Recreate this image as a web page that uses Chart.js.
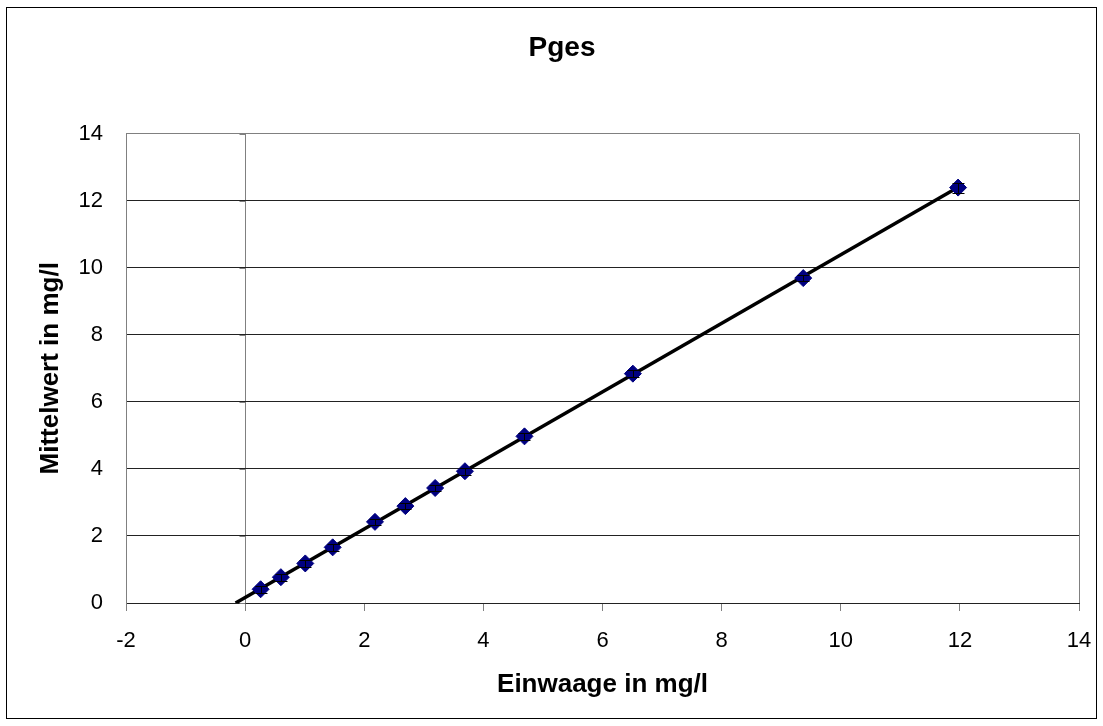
<!DOCTYPE html>
<html><head><meta charset="utf-8">
<script src="https://cdn.jsdelivr.net/npm/chart.js@4/dist/chart.umd.min.js"></script>
<style>html,body{margin:0;padding:0;background:#fff}canvas{display:block}</style>
</head><body>
<canvas id="c" width="1103" height="726"></canvas>
<script>
// ---- data ----
const einwaage   = [0.26, 0.60, 1.01, 1.47, 2.18, 2.69, 3.19, 3.69, 4.69, 6.51, 9.37, 11.97];
const mittelwert = [0.41, 0.77, 1.18, 1.66, 2.42, 2.89, 3.43, 3.93, 4.97, 6.84, 9.69, 12.39];
const fehler     = [0.10, 0.10, 0.10, 0.10, 0.10, 0.10, 0.10, 0.10, 0.10, 0.10, 0.10, 0.15];
const trendX = [-0.16, 11.97];
const trendY = [0, 12.40];
const xTicks = [-2, 0, 2, 4, 6, 8, 10, 12, 14];
const yTicks = [0, 2, 4, 6, 8, 10, 12, 14];
const chartTitle = 'Pges';
const xTitle = 'Einwaage in mg/l';
const yTitle = 'Mittelwert in mg/l';

const FONT = "'Liberation Sans', Arial, sans-serif";
Chart.defaults.font.family = FONT;
Chart.defaults.color = '#000';

const frame = {
  id: 'frame',
  beforeDraw(chart) {
    const c = chart.ctx;
    c.save();
    c.fillStyle = '#fff';
    c.fillRect(0, 0, chart.width, chart.height);
    c.strokeStyle = '#000';
    c.lineWidth = 1;
    c.strokeRect(6.5, 7.5, 1090, 711);
    c.restore();
  }
};

const yAxisAtZero = {
  id: 'yAxisAtZero',
  beforeDatasetsDraw(chart) {
    const c = chart.ctx, xs = chart.scales.x, ys = chart.scales.y;
    const px = Math.round(xs.getPixelForValue(0)) + 0.5;
    c.save();
    c.strokeStyle = '#808080';
    c.lineWidth = 1;
    c.beginPath();
    yTicks.forEach(v => {
      const py = Math.round(ys.getPixelForValue(v)) + 0.5;
      c.moveTo(px - 6, py); c.lineTo(px, py);
    });
    c.stroke();
    c.restore();
  }
};

const errorBars = {
  id: 'errorBars',
  afterDatasetsDraw(chart) {
    const c = chart.ctx, xs = chart.scales.x, ys = chart.scales.y;
    c.save();
    c.strokeStyle = '#000';
    c.lineWidth = 1;
    c.beginPath();
    einwaage.forEach((xv, i) => {
      const px = Math.round(xs.getPixelForValue(xv)) + 0.5;
      const top = Math.round(ys.getPixelForValue(mittelwert[i] + fehler[i])) + 0.5;
      const bot = Math.round(ys.getPixelForValue(mittelwert[i] - fehler[i])) + 0.5;
      c.moveTo(px, top); c.lineTo(px, bot);
      c.moveTo(px - 6, top); c.lineTo(px + 6, top);
      c.moveTo(px - 6, bot); c.lineTo(px + 6, bot);
    });
    c.stroke();
    c.restore();
  }
};

new Chart(document.getElementById('c'), {
  type: 'scatter',
  data: {
    datasets: [
      {
        label: 'Mittelwert',
        data: einwaage.map((x, i) => ({x, y: mittelwert[i]})),
        pointStyle: 'rectRot',
        pointRadius: 8.5,
        pointBackgroundColor: '#000080',
        pointBorderColor: '#000080',
        pointBorderWidth: 1,
        order: 1
      },
      {
        label: 'Trend',
        data: trendX.map((x, i) => ({x, y: trendY[i]})),
        showLine: true,
        borderColor: '#000',
        borderWidth: 3.5,
        pointRadius: 0,
        order: 2
      }
    ]
  },
  options: {
    responsive: false,
    animation: false,
    layout: { padding: { left: 30, right: 9, top: 8, bottom: 0 } },
    plugins: {
      legend: { display: false },
      tooltip: { enabled: false },
      title: {
        display: true,
        text: chartTitle,
        color: '#000',
        font: { size: 28, weight: 'bold', family: FONT },
        padding: { top: 23, bottom: 69 }
      }
    },
    scales: {
      x: {
        type: 'linear',
        position: 'bottom',
        min: -2, max: 14,
        afterBuildTicks: s => { s.ticks = xTicks.map(v => ({value: v})); },
        afterFit: s => { s.height = 123; s.paddingLeft = 0; s.paddingRight = 0; },
        grid: {
          drawOnChartArea: true,
          color: ctx => (ctx.tick && (ctx.tick.value === 0 || ctx.tick.value === 14)) ? '#808080' : 'rgba(0,0,0,0)',
          tickColor: '#808080',
          tickLength: 8,
          lineWidth: 1
        },
        border: { display: true, color: '#222', width: 1 },
        ticks: { font: { size: 22, family: FONT }, color: '#000', padding: 17, maxRotation: 0 },
        title: {
          display: true, text: xTitle, color: '#000',
          font: { size: 26, weight: 'bold', family: FONT },
          padding: { top: 0, bottom: 26 }
        }
      },
      y: {
        type: 'linear',
        position: 'left',
        min: 0, max: 14,
        afterBuildTicks: s => { s.ticks = yTicks.map(v => ({value: v})); },
        afterFit: s => { s.width = 96; s.paddingTop = 0; s.paddingBottom = 0; },
        grid: {
          color: ctx => (ctx.tick && ctx.tick.value === 14) ? '#808080' : '#222',
          drawTicks: false,
          lineWidth: 1
        },
        border: { display: true, color: '#808080', width: 1 },
        ticks: { font: { size: 22, family: FONT }, color: '#000', padding: 23 },
        title: {
          display: true, text: yTitle, color: '#000',
          font: { size: 26, weight: 'bold', family: FONT },
          padding: { top: 5, bottom: 0 }
        }
      },
      pad: {
        type: 'linear',
        position: 'right',
        display: true,
        grid: { display: false },
        border: { display: false },
        ticks: { display: false },
        afterFit: s => { s.width = 15; s.paddingTop = 0; s.paddingBottom = 0; }
      }
    }
  },
  plugins: [frame, yAxisAtZero, errorBars]
});
</script>
</body></html>
